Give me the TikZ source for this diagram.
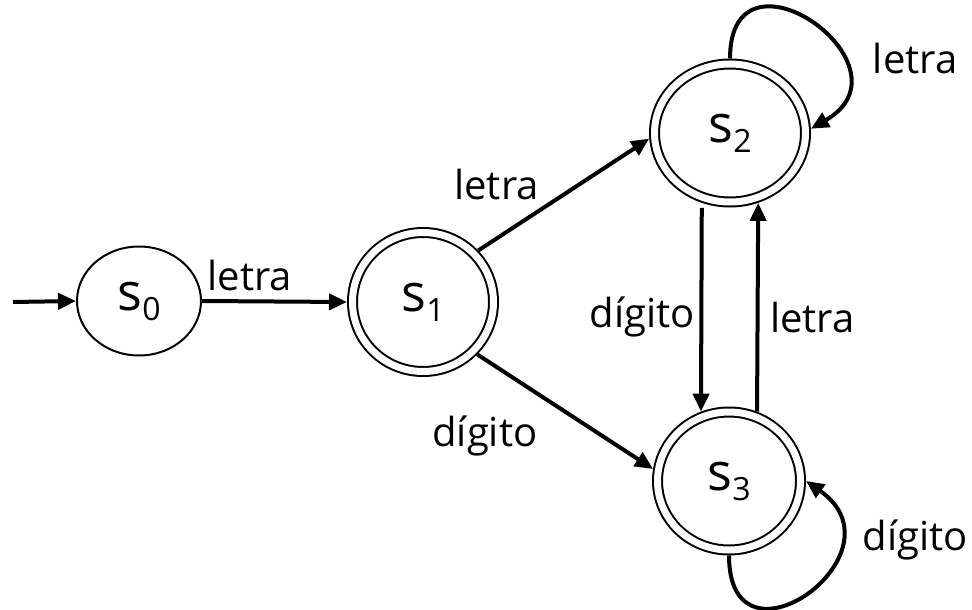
\documentclass[tikz,border=0pt]{standalone}
\usepackage{fontspec}
\setmainfont{Open Sans}
\usetikzlibrary{arrows.meta,shapes.geometric}

% state name: big s with a small index
\newcommand{\stlabel}[1]{{\fontsize{26}{26}\selectfont s}\raisebox{-5pt}{\fontsize{16}{16}\selectfont #1}}

\begin{document}
\begin{tikzpicture}[x=0.5pt,y=-0.5pt,
  font=\fontsize{20}{22}\selectfont,
  state/.style={ellipse,draw,line width=1pt,inner sep=0pt},
  accept/.style={state,double,double distance=3.5pt,outer sep=2.75pt},
  trans/.style={-{Triangle[length=9pt,width=8pt]},line width=2pt}]
\useasboundingbox (0,0) rectangle (972,609);

\node[state,minimum width=62pt,minimum height=54.5pt] (s0) at (139,301) {\stlabel{0}};
\node[accept,minimum width=70.5pt,minimum height=69.5pt] (s1) at (423,302) {\stlabel{1}};
\node[accept,minimum width=75.5pt,minimum height=69pt] (s2) at (730,133) {\stlabel{2}};
\node[accept,minimum width=71.5pt,minimum height=69pt] (s3) at (729,481) {\stlabel{3}};
\coordinate (start) at (13,302);

\draw[trans] (start) -- (s0.west);
\draw[trans] (s0.east) -- node[pos=0.33,above,yshift=1pt] {letra} (s1.west);
\draw[trans] (s1.43) -- node[pos=0.3,anchor=south east,xshift=9pt,yshift=4pt] {letra} (s2.184);
\draw[trans] (s1.-44) -- node[pos=0.3,anchor=north east,xshift=8pt,yshift=-9pt] {dígito} (s3.171);
\draw[trans,shorten <=2.5pt] (s2.248) -- node[left=-1pt,yshift=-5pt] {dígito} (s3.112);
\draw[trans] (s3.68) -- node[right=2pt,yshift=-5pt] {letra} (s2.292);
\draw[trans] (s2.north) to[out=90,in=30,looseness=3] node[pos=0.62,right=9pt,xshift=7pt,yshift=-7pt] {letra} (s2.3);
\draw[trans] (s3.south) to[out=-90,in=-35,looseness=3] node[pos=0.72,right=9pt,yshift=4pt] {dígito} (s3.east);
\end{tikzpicture}
\end{document}
